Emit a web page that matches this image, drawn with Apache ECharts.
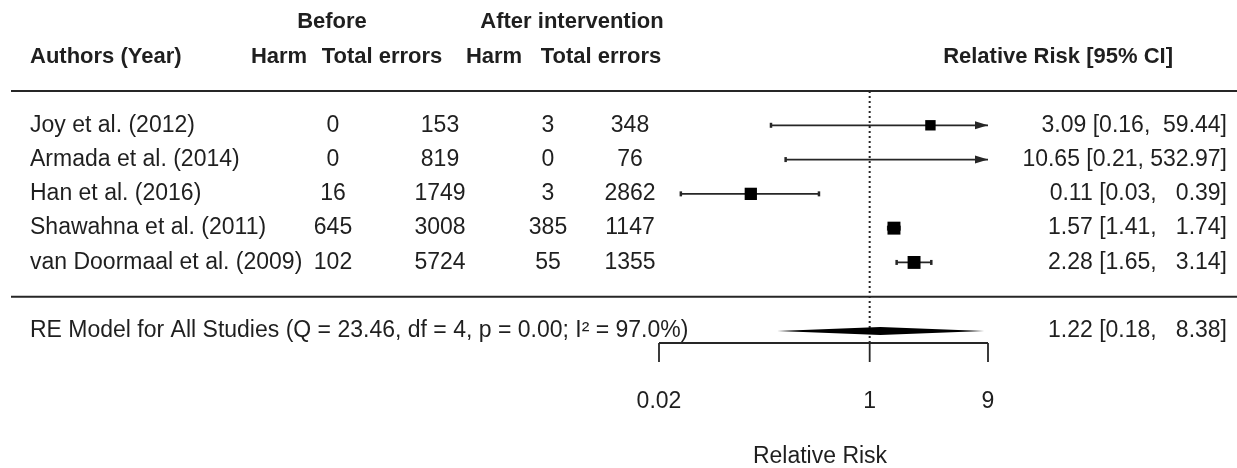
<!DOCTYPE html>
<html>
<head>
<meta charset="utf-8">
<title>Forest plot</title>
<script src="https://cdn.jsdelivr.net/npm/echarts@6.0.0/dist/echarts.min.js"></script>
<style>
  html, body { margin: 0; padding: 0; background: #fff; }
  #forest { width: 1237px; height: 468px; }
</style>
</head>
<body>
<div id="forest"></div>
<script>
  // studies, top to bottom
  var studies = ['Joy et al. (2012)', 'Armada et al. (2014)', 'Han et al. (2016)', 'Shawahna et al. (2011)', 'van Doormaal et al. (2009)'];
  var harmBefore = [0, 0, 16, 645, 102];
  var totalBefore = [153, 819, 1749, 3008, 5724];
  var harmAfter = [3, 0, 3, 385, 55];
  var totalAfter = [348, 76, 2862, 1147, 1355];
  var rr = [3.09, 10.65, 0.11, 1.57, 2.28];
  var ciLow = [0.16, 0.21, 0.03, 1.41, 1.65];
  var ciHigh = [59.44, 532.97, 0.39, 1.74, 3.14];
  var weights = [15.7, 12.4, 22.4, 24.8, 24.7]; // RE weights (%), only used for box size

  // pooled estimate
  var reLabel = 'RE Model for All Studies (Q = 23.46, df = 4, p = 0.00; I\u00B2 = 97.0%)';
  var rrAll = 1.22;
  var ciAll = [0.18, 8.38];

  // axis
  var xMin = 0.02, xMax = 9;
  var xTicks = [0.02, 1, 9];
  var xTickLabels = ['0.02', '1', '9'];

  var FONT = '"Liberation Sans", Arial, sans-serif';
  var INK = '#1f1f1f';
  var LINE = '#262626';

  // horizontal positions of the table columns (px)
  var col = { author: 30, harmB: 333, totalB: 440, harmA: 548, totalA: 630, ci: 1227 };

  function fmt(v) { return v.toFixed(2); }
  function ciText(est, lo, hi) {
    return fmt(est) + ' [' + fmt(lo) + ', ' + fmt(hi).padStart(6) + ']';
  }
  function txt(str, x, y, align, bold) {
    return {
      type: 'text',
      style: {
        text: str, x: x, y: y,
        align: align || 'center', verticalAlign: 'middle',
        fill: INK, font: bold ? 'bold 22px ' + FONT : '23px ' + FONT
      }
    };
  }
  function seg(x1, y1, x2, y2, w) {
    return { type: 'line', shape: { x1: x1, y1: y1, x2: x2, y2: y2 }, style: { stroke: LINE, lineWidth: w || 1.5 } };
  }

  var studyData = studies.map(function (s, i) {
    return [rr[i], studies.length - i, ciLow[i], ciHigh[i], weights[i], i];
  });

  function renderStudy(params, api) {
    var est = api.value(0), row = api.value(1), lo = api.value(2), hi = api.value(3);
    var w = api.value(4), i = api.value(5);
    var y = api.coord([1, row])[1];
    var xl = api.coord([Math.max(lo, xMin), row])[0];
    var xh = api.coord([Math.min(hi, xMax), row])[0];
    var kids = [seg(xl, y, xh, y, 1.8)];
    if (lo >= xMin) kids.push(seg(xl, y - 2.5, xl, y + 2.5, 2.5));
    else kids.push({ type: 'polygon', shape: { points: [[xl, y], [xl + 13, y - 4], [xl + 13, y + 4]] }, style: { fill: LINE } });
    if (hi <= xMax) kids.push(seg(xh, y - 2.5, xh, y + 2.5, 2.5));
    else kids.push({ type: 'polygon', shape: { points: [[xh, y], [xh - 13, y - 4], [xh - 13, y + 4]] }, style: { fill: LINE } });
    if (est >= xMin && est <= xMax) {
      var sz = 6 + 0.28 * w;
      var xe = api.coord([est, row])[0];
      kids.push({ type: 'rect', shape: { x: xe - sz / 2, y: y - sz / 2, width: sz, height: sz }, style: { fill: '#000' } });
    }
    kids.push(txt(studies[i], col.author, y, 'left'));
    kids.push(txt(String(harmBefore[i]), col.harmB, y));
    kids.push(txt(String(totalBefore[i]), col.totalB, y));
    kids.push(txt(String(harmAfter[i]), col.harmA, y));
    kids.push(txt(String(totalAfter[i]), col.totalA, y));
    kids.push(txt(ciText(est, lo, hi), col.ci, y, 'right'));
    return { type: 'group', children: kids };
  }

  function renderSummary(params, api) {
    var est = api.value(0), row = api.value(1);
    var y = api.coord([1, row])[1];
    var xe = api.coord([est, row])[0];
    var xl = api.coord([api.value(2), row])[0];
    var xh = api.coord([api.value(3), row])[0];
    return {
      type: 'group',
      children: [
        { type: 'polygon', shape: { points: [[xl, y], [xe, y - 4], [xh, y], [xe, y + 4]] }, style: { fill: '#000' } },
        txt(reLabel, col.author, y, 'left'),
        txt(ciText(est, api.value(2), api.value(3)), col.ci, y, 'right')
      ]
    };
  }

  function renderFrame(params, api) {
    var yTop = api.coord([1, 6])[1];
    var ySep = api.coord([1, 0])[1];
    var yHead = api.coord([1, 7])[1];
    var yHead2 = api.coord([1, 8])[1];
    var yAxis = api.coord([1, -1.35])[1];
    var x1 = api.coord([1, 0])[0];
    var kids = [
      seg(11, yTop, 1237, yTop, 2),
      seg(11, ySep, 1237, ySep, 2),
      { type: 'line', shape: { x1: x1, y1: yTop, x2: x1, y2: yAxis }, style: { stroke: LINE, lineWidth: 2, lineDash: [2, 3] } },
      seg(api.coord([xMin, 0])[0], yAxis, api.coord([xMax, 0])[0], yAxis, 1.8)
    ];
    xTicks.forEach(function (t, k) {
      var xt = api.coord([t, 0])[0];
      kids.push(seg(xt, yAxis, xt, yAxis + 19, 1.8));
      kids.push(txt(xTickLabels[k], xt, yAxis + 59));
    });
    kids.push(txt('Relative Risk', 820, yAxis + 114));
    // column headers
    kids.push(txt('Before', 332, yHead2, 'center', true));
    kids.push(txt('After intervention', 572, yHead2, 'center', true));
    kids.push(txt('Authors (Year)', col.author, yHead, 'left', true));
    kids.push(txt('Harm', 279, yHead, 'center', true));
    kids.push(txt('Total errors', 382, yHead, 'center', true));
    kids.push(txt('Harm', 494, yHead, 'center', true));
    kids.push(txt('Total errors', 601, yHead, 'center', true));
    kids.push(txt('Relative Risk [95% CI]', 1173, yHead, 'right', true));
    return { type: 'group', children: kids };
  }

  var chart = echarts.init(document.getElementById('forest'));
  chart.setOption({
    animation: false,
    backgroundColor: '#fff',
    grid: { left: 659, width: 329, top: 91, height: 252 },
    xAxis: { type: 'log', logBase: 10, min: xMin, max: xMax, show: false },
    yAxis: { type: 'value', min: -1.35, max: 6, show: false },
    series: [
      { type: 'custom', renderItem: renderFrame, data: [[1, 0]], encode: { x: 0, y: 1 }, z: 1 },
      { type: 'custom', renderItem: renderStudy, data: studyData, encode: { x: 0, y: 1 }, z: 2 },
      { type: 'custom', renderItem: renderSummary, data: [[rrAll, -1, ciAll[0], ciAll[1]]], encode: { x: 0, y: 1 }, z: 2 }
    ]
  });
</script>
</body>
</html>
